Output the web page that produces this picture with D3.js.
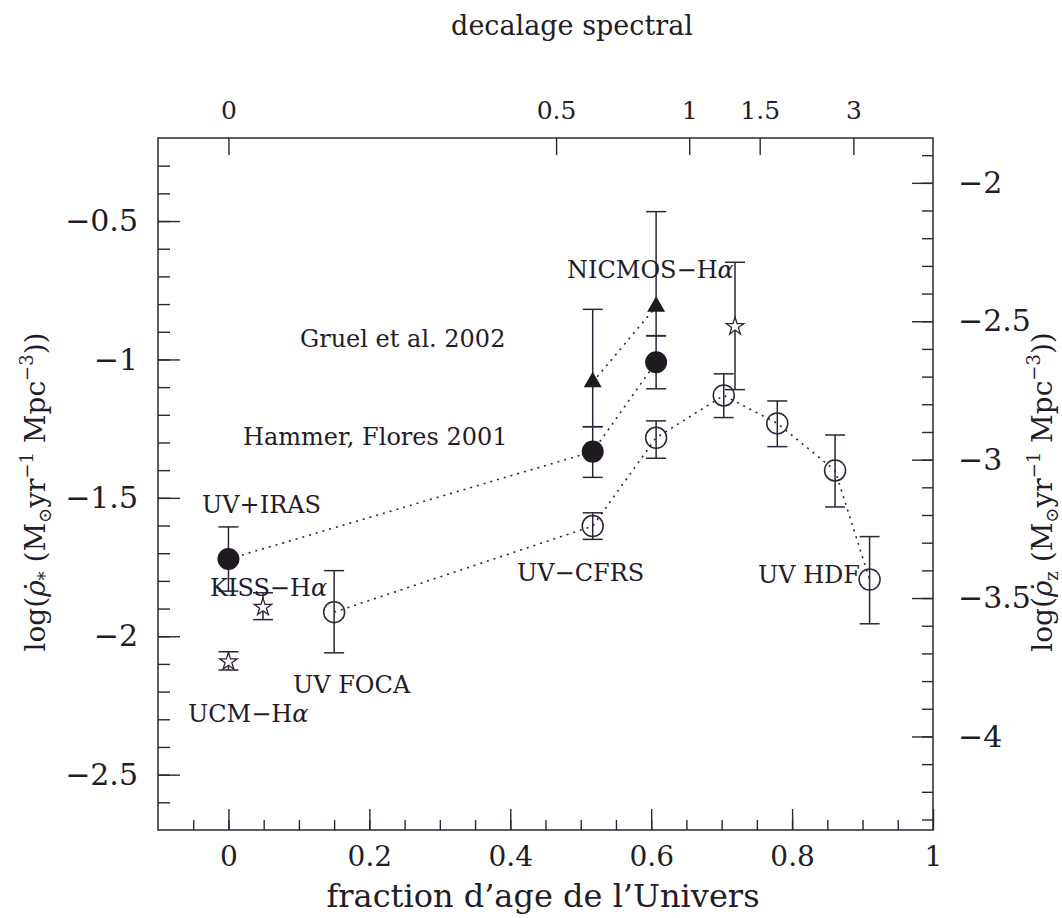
<!DOCTYPE html>
<html>
<head>
<meta charset="utf-8">
<script src="https://cdn.jsdelivr.net/npm/d3@7"></script>
<style>
  body { margin: 0; background: #fff; }
  text { font-family: "DejaVu Serif", serif; fill: #231c28; }
</style>
</head>
<body>
<div id="chart"></div>
<script>
// fraction of universe age (x), log rho* (y), error bounds
var uvX    = [0.15, 0.517, 0.607, 0.703, 0.779, 0.861, 0.91];
var uvY    = [-1.913, -1.602, -1.283, -1.13, -1.231, -1.401, -1.795];
var uvHi   = [-1.763, -1.554, -1.222, -1.052, -1.15, -1.273, -1.64];
var uvLo   = [-2.06, -1.65, -1.357, -1.21, -1.315, -1.533, -1.955];

var hfX  = [0, 0.517, 0.607];
var hfY  = [-1.721, -1.333, -1.01];
var hfHi = [-1.605, -1.243, -0.915];
var hfLo = [-1.837, -1.426, -1.106];

var grX  = [0.517, 0.607];
var grY  = [-1.082, -0.809];
var grHi = [-0.819, -0.466];
var grLo = [-1.243, -0.914];

var starX  = [0, 0.049, 0.719];
var starY  = [-2.092, -1.895, -0.881];
var starHi = [-2.056, -1.843, -0.649];
var starLo = [-2.122, -1.94, -1.109];

var leftTicks = [-0.5, -1, -1.5, -2, -2.5];
var rightTicks = [-2, -2.5, -3, -3.5, -4];
var bottomTicks = [0, 0.2, 0.4, 0.6, 0.8, 1];
var topTickLabels = ["0", "0.5", "1", "1.5", "3"];
var topTickPos = [0, 0.465, 0.654, 0.754, 0.887];
var zOffset = 1.638; // log rho_z = log rho* - offset

var annotations = [
  {t: "Gruel et al. 2002", x: 300, y: 347},
  {t: "Hammer, Flores 2001", x: 243, y: 445},
  {t: "NICMOS\u2212H", a: true, x: 567, y: 278},
  {t: "UV+IRAS", x: 202, y: 513},
  {t: "KISS\u2212H", a: true, x: 210, y: 596},
  {t: "UV FOCA", x: 293, y: 693},
  {t: "UCM\u2212H", a: true, x: 188, y: 722},
  {t: "UV\u2212CFRS", x: 517, y: 581},
  {t: "UV HDF", x: 758, y: 583}
];

var W = 1062, H = 918;
var m = {left: 158, right: 129, top: 138, bottom: 88};
var col = "#2e2436";

var svg = d3.select("#chart").append("svg")
  .attr("width", W).attr("height", H);

var x = d3.scaleLinear().domain([-0.1, 1]).range([m.left, W - m.right]);
var y = d3.scaleLinear().domain([-2.7, -0.2]).range([H - m.bottom, m.top]);
var yR = d3.scaleLinear().domain([-2.7 - zOffset, -0.2 - zOffset]).range([H - m.bottom, m.top]);

var minorX = d3.range(-0.05, 1.0, 0.05).map(function(d) { return +d.toFixed(2); });
var minorY = d3.range(-2.6, -0.2, 0.1).map(function(d) { return +d.toFixed(1); });
var minorYR = d3.range(-4.3, -1.85, 0.1).map(function(d) { return +d.toFixed(1); });

function fmt(d) { return d < 0 ? "\u2212" + Math.abs(d) : String(d); }

function styleAxis(g) {
  g.select(".domain").remove();
  g.selectAll("line").attr("stroke", col).attr("stroke-width", 1.4);
}

function labelSize(g, s) {
  g.selectAll("text").style("font-size", s + "px").style("font-family", "DejaVu Serif").attr("fill", "#231c28");
}

// bottom
svg.append("g").attr("transform", "translate(0," + (H - m.bottom) + ")")
  .call(d3.axisBottom(x).tickValues(minorX).tickSize(-10).tickFormat(""))
  .call(styleAxis);
svg.append("g").attr("transform", "translate(0," + (H - m.bottom) + ")")
  .call(d3.axisBottom(x).tickValues(bottomTicks).tickSize(-21).tickPadding(16).tickFormat(fmt))
  .call(styleAxis)
  .call(labelSize, 28);

// top (redshift)
svg.append("g").attr("transform", "translate(0," + m.top + ")")
  .call(d3.axisTop(x).tickValues(topTickPos).tickSize(-17).tickPadding(19)
    .tickFormat(function(d, i) { return topTickLabels[i]; }))
  .call(styleAxis)
  .call(labelSize, 25);

// left
svg.append("g").attr("transform", "translate(" + m.left + ",0)")
  .call(d3.axisLeft(y).tickValues(minorY).tickSize(-12).tickFormat(""))
  .call(styleAxis);
svg.append("g").attr("transform", "translate(" + m.left + ",0)")
  .call(d3.axisLeft(y).tickValues(leftTicks).tickSize(-22).tickPadding(20).tickFormat(fmt))
  .call(styleAxis)
  .call(labelSize, 30);

// right
svg.append("g").attr("transform", "translate(" + (W - m.right) + ",0)")
  .call(d3.axisRight(yR).tickValues(minorYR).tickSize(-11).tickFormat(""))
  .call(styleAxis);
svg.append("g").attr("transform", "translate(" + (W - m.right) + ",0)")
  .call(d3.axisRight(yR).tickValues(rightTicks).tickSize(-21).tickPadding(25).tickFormat(fmt))
  .call(styleAxis)
  .call(labelSize, 30);

// frame
svg.append("rect")
  .attr("x", m.left).attr("y", m.top)
  .attr("width", W - m.left - m.right).attr("height", H - m.top - m.bottom)
  .attr("fill", "none").attr("stroke", col).attr("stroke-width", 1.5);

// dotted connecting lines
var line = d3.line().x(function(d) { return x(d[0]); }).y(function(d) { return y(d[1]); });
[[uvX, uvY], [hfX, hfY], [grX, grY]].forEach(function(s) {
  svg.append("path")
    .datum(d3.zip(s[0], s[1]))
    .attr("d", line)
    .attr("fill", "none").attr("stroke", col)
    .attr("stroke-width", 1.6).attr("stroke-dasharray", "2,5");
});

// error bars
function errBars(xs, his, los) {
  var data = d3.zip(xs, his, los);
  var g = svg.append("g").attr("stroke", col).attr("stroke-width", 1.5);
  g.selectAll(".v").data(data).enter().append("line")
    .attr("x1", function(d) { return x(d[0]); }).attr("x2", function(d) { return x(d[0]); })
    .attr("y1", function(d) { return y(d[1]); }).attr("y2", function(d) { return y(d[2]); });
  [1, 2].forEach(function(k) {
    g.selectAll(".c" + k).data(data).enter().append("line")
      .attr("x1", function(d) { return x(d[0]) - 10; }).attr("x2", function(d) { return x(d[0]) + 10; })
      .attr("y1", function(d) { return y(d[k]); }).attr("y2", function(d) { return y(d[k]); });
  });
}
errBars(uvX, uvHi, uvLo);
errBars(hfX, hfHi, hfLo);
errBars(grX, grHi, grLo);
errBars(starX, starHi, starLo);

// markers
svg.append("g").selectAll("circle").data(d3.zip(uvX, uvY)).enter().append("circle")
  .attr("cx", function(d) { return x(d[0]); }).attr("cy", function(d) { return y(d[1]); })
  .attr("r", 10.5).attr("fill", "none").attr("stroke", col).attr("stroke-width", 1.5);

svg.append("g").selectAll("circle").data(d3.zip(hfX, hfY)).enter().append("circle")
  .attr("cx", function(d) { return x(d[0]); }).attr("cy", function(d) { return y(d[1]); })
  .attr("r", 11).attr("fill", "#1e1a20");

svg.append("g").selectAll("path").data(d3.zip(grX, grY)).enter().append("path")
  .attr("transform", function(d) { return "translate(" + x(d[0]) + "," + y(d[1]) + ")"; })
  .attr("d", d3.symbol(d3.symbolTriangle, 140))
  .attr("fill", "#1e1a20");

svg.append("g").selectAll("path").data(d3.zip(starX, starY)).enter().append("path")
  .attr("transform", function(d) { return "translate(" + x(d[0]) + "," + y(d[1]) + ")"; })
  .attr("d", d3.symbol(d3.symbolStar, 95))
  .attr("fill", "#fff").attr("stroke", col).attr("stroke-width", 1.3);

// annotations
annotations.forEach(function(a) {
  var t = svg.append("text").attr("x", a.x).attr("y", a.y).attr("font-size", 24).text(a.t);
  if (a.a) t.append("tspan").attr("font-style", "italic").text("\u03b1");
});

// axis titles
svg.append("text").attr("x", 572).attr("y", 35).attr("text-anchor", "middle")
  .attr("font-size", 27).text("decalage spectral");
svg.append("text").attr("x", 543).attr("y", 907).attr("text-anchor", "middle")
  .attr("font-size", 32).text("fraction d\u2019age de l\u2019Univers");

function yTitle(px, sub) {
  var t = svg.append("text")
    .attr("transform", "translate(" + px + ",492) rotate(-90)")
    .attr("text-anchor", "middle").attr("font-size", 28);
  t.append("tspan").text("log(");
  t.append("tspan").attr("font-style", "italic").text("\u03c1\u0307");
  t.append("tspan").attr("font-size", 18).attr("dy", 6).text(sub);
  t.append("tspan").attr("dy", -6).text(" (M");
  t.append("tspan").attr("font-size", 18).attr("dy", 6).text("\u2299");
  t.append("tspan").attr("dy", -6).text("yr");
  t.append("tspan").attr("font-size", 18).attr("dy", -12).text("\u22121");
  t.append("tspan").attr("dy", 12).text(" Mpc");
  t.append("tspan").attr("font-size", 18).attr("dy", -12).text("\u22123");
  t.append("tspan").attr("dy", 12).text("))");
}
yTitle(45, "*");
yTitle(1052, "z");
</script>
</body>
</html>
